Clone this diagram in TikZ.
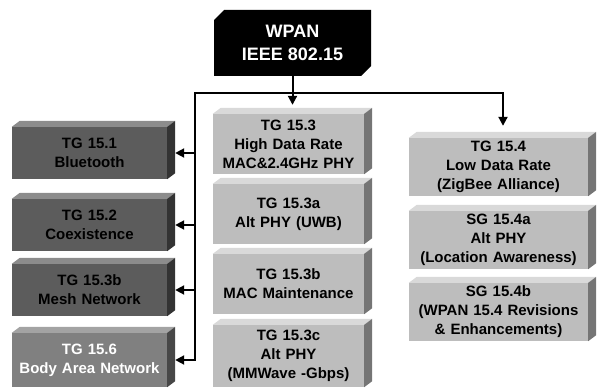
\documentclass[tikz,border=0pt]{standalone}
\usepackage{fontspec}
\setmainfont{Liberation Sans}
\usetikzlibrary{positioning,shapes.misc,arrows.meta,calc}
\definecolor{foncefond}{gray}{0.36}
\definecolor{foncehaut}{gray}{0.55}
\definecolor{foncecote}{gray}{0.2}
\definecolor{moyenfond}{gray}{0.5}
\definecolor{moyenhaut}{gray}{0.64}
\definecolor{moyencote}{gray}{0.28}
\definecolor{clairfond}{gray}{0.74}
\definecolor{clairhaut}{gray}{0.85}
\definecolor{claircote}{gray}{0.46}
\tikzset{faces/.style 2 args={append after command={\pgfextra{
        \fill[#1] (\tikzlastnode.north west) -- ++(8,6) -- ($(\tikzlastnode.north east)+(8,6)$) -- (\tikzlastnode.north east) -- cycle;
        \fill[#2] (\tikzlastnode.north east) -- ++(8,6) -- ($(\tikzlastnode.south east)+(8,6)$) -- (\tikzlastnode.south east) -- cycle;
    }}}}
\begin{document}
\begin{tikzpicture}[x=1pt, y=1pt, node distance=70pt]
        \tikzstyle{bloc} = [rectangle, inner sep=0pt, align=center, font=\bfseries\fontsize{15}{19}\selectfont]
        \tikzstyle{fonce} = [bloc, text width=155pt, minimum height=52pt, fill=foncefond, text=black, faces={foncehaut}{foncecote}]
        \tikzstyle{fonce_blanc} = [bloc, text width=155pt, minimum height=54pt, fill=moyenfond, text=white, faces={moyenhaut}{moyencote}]
        \tikzstyle{clair} = [bloc, text width=151pt, minimum height=60pt, fill=clairfond, faces={clairhaut}{claircote}]
        \tikzstyle{clair_large} = [clair, text width=179pt, minimum height=58pt]
        \tikzstyle{racine} = [chamfered rectangle, chamfered rectangle corners={north west,south east}, chamfered rectangle xsep=5pt, chamfered rectangle ysep=5pt, minimum width=157pt, minimum height=66pt, inner sep=0pt, fill=black, text=white, align=center, font=\bfseries\fontsize{18}{23}\selectfont]
        \tikzstyle{ligne} = [line width=2pt, line cap=rect]
        \tikzstyle{fleche} = [ligne, -{Triangle[length=9pt,width=9pt]}]
        \useasboundingbox (0,0) rectangle (601,-390);

        \node (wpan) [racine] at (292.5,-43) {WPAN\\IEEE 802.15};

        \node (tg153) [clair] at (288.5,-144) {TG 15.3\\High Data Rate\\MAC\&2.4GHz PHY};
        \node (tg153a) [clair, below of=tg153] {TG 15.3a\\Alt PHY (UWB)};
        \node (tg153b) [clair, below of=tg153a] {TG 15.3b\\MAC Maintenance};
        \node (tg153c) [clair, below of=tg153b, yshift=-2pt, minimum height=62pt] {TG 15.3c\\Alt PHY\\(MMWave -Gbps)};

        \node (tg154) [clair_large] at (498.5,-167) {TG 15.4\\Low Data Rate\\(ZigBee Alliance)};
        \node (sg154a) [clair_large, below of=tg154, yshift=-3pt] {SG 15.4a\\Alt PHY\\(Location Awareness)};
        \node (sg154b) [clair_large, below of=sg154a, yshift=-2pt] {SG 15.4b\\(WPAN 15.4 Revisions\\\& Enhancements)};

        \node (tg151) [fonce] at (89.5,-153) {TG 15.1\\Bluetooth};
        \node (tg152) [fonce, below of=tg151, yshift=-2pt] {TG 15.2\\Coexistence};
        \node (tg153b_mesh) [fonce, below of=tg152, yshift=5pt] {TG 15.3b\\Mesh Network};
        \node (tg156) [fonce_blanc, below of=tg153b_mesh] {TG 15.6\\Body Area Network};

        \coordinate (bus_gauche) at (195,-93);
        \coordinate (bus_droite) at (503,-93);
        \coordinate (tg153_entree) at ($(wpan.south |- tg153.north)+(0,9)$);
        \coordinate (tg154_entree) at ($(tg154.north)+(0,12)$);
        \draw[ligne] (bus_gauche) -- (bus_droite);
        \draw[fleche] (wpan.south) -- (tg153_entree);
        \draw[fleche] (bus_droite) -- (bus_droite |- tg154_entree);
        \draw[fleche] (bus_gauche) |- ($(tg151.east)+(8,0)$);
        \draw[fleche] (bus_gauche) |- ($(tg152.east)+(8,0)$);
        \draw[fleche] (bus_gauche) |- ($(tg153b_mesh.east)+(8,0)$);
        \draw[fleche] (bus_gauche) |- ($(tg156.east)+(8,0)$);
    \end{tikzpicture}
\end{document}
